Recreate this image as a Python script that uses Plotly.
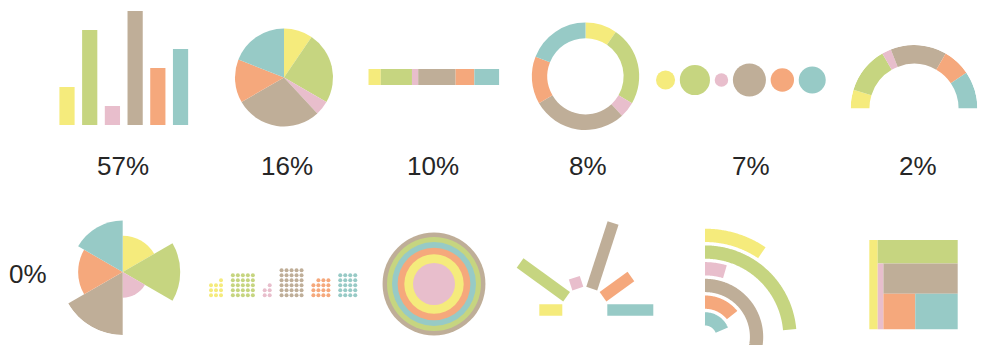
import numpy as np
import plotly.graph_objects as go

W, H = 983, 345

# ---------------- data ----------------
categories = ["A", "B", "C", "D", "E", "F"]
values = [2, 5, 1, 6, 3, 4]
colors = ["#F5EB7C", "#C6D580", "#E8BECC", "#BFAE98", "#F5A87C", "#97CAC6"]
share_labels = ["57%", "16%", "10%", "8%", "7%", "2%", "0%"]

v = np.array(values, dtype=float)
n = len(v)
total = v.sum()
cum = np.cumsum(v)
start = cum - v


def px_dom(x0, y0, x1, y1):
    return dict(x=[x0 / W, x1 / W], y=[1 - y1 / H, 1 - y0 / H])


def circle_dom(cx, cy, r):
    return px_dom(cx - r, cy - r, cx + r, cy + r)


fig = go.Figure()

# 1 column chart
fig.add_trace(go.Bar(x=categories, y=values, width=0.67,
                     marker=dict(color=colors, line=dict(width=0)),
                     xaxis="x", yaxis="y"))

# 2 pie
fig.add_trace(go.Pie(labels=categories, values=values, sort=False,
                     direction="clockwise", rotation=0,
                     marker=dict(colors=colors, line=dict(width=0)),
                     textinfo="none", domain=circle_dom(284, 77.5, 49)))

# 3 stacked bar
fig.add_trace(go.Bar(y=[0] * n, x=values, base=start, orientation="h", width=1,
                     marker=dict(color=colors, line=dict(width=0)),
                     xaxis="x2", yaxis="y2"))

# 4 donut
fig.add_trace(go.Pie(labels=categories, values=values, sort=False,
                     direction="clockwise", rotation=0, hole=0.71,
                     marker=dict(colors=colors, line=dict(width=0)),
                     textinfo="none", domain=circle_dom(585.5, 76.3, 53.7)))

# 5 bubbles (area ~ value)
d = 13.5 * np.sqrt(v)
bx = 656 + np.cumsum(d) - d / 2 + 4.7 * np.arange(n)
fig.add_trace(go.Scatter(x=bx, y=[80] * n, mode="markers",
                         marker=dict(size=d, color=colors, opacity=1, line=dict(width=0)),
                         xaxis="x3", yaxis="y3"))

# 6 semi donut
fig.add_trace(go.Barpolar(r=[1 - 0.703] * n, base=[0.703] * n,
                          theta=(start + v / 2) * 180 / total,
                          width=v * 180 / total,
                          marker=dict(color=colors, line=dict(width=0)),
                          subplot="polar"))

# 7 rose
fig.add_trace(go.Barpolar(r=np.sqrt(v), theta=(np.arange(n) + 0.5) * 360 / n,
                          width=[360 / n] * n,
                          marker=dict(color=colors, line=dict(width=0)),
                          subplot="polar2"))

# 8 waffle (5 dots per unit)
per_unit = 5
wx, wy, wc = [], [], []
gx = 0.0
for i in range(n):
    cnt = int(v[i] * per_unit)
    cols = int(round(np.sqrt(cnt)))
    for k in range(cnt):
        row = k // cols
        col = cols - 1 - (k % cols)
        wx.append(211 + 5 * (gx + col))
        wy.append(295.3 - 5 * row)
        wc.append(colors[i])
    gx += cols - 1 + 2.37
fig.add_trace(go.Scatter(x=wx, y=wy, mode="markers",
                         marker=dict(size=4, color=wc, opacity=1, line=dict(width=0)),
                         xaxis="x3", yaxis="y3"))

# 9 concentric circles
order = np.argsort(-v)
fig.add_trace(go.Scatter(x=[434] * n, y=[284] * n, mode="markers",
                         marker=dict(size=2 * 21 * np.sqrt(v[order]),
                                     color=[colors[i] for i in order],
                                     opacity=1, line=dict(width=0)),
                         xaxis="x3", yaxis="y3"))

# 10 rays
ray_theta = 180 - np.arange(n) * 180 / (n - 1)
RAY_IN, RAY_UNIT = 22.5, 11.5
for i in range(n):
    fig.add_trace(go.Scatterpolar(r=[RAY_IN, RAY_IN + RAY_UNIT * v[i]],
                                  theta=[ray_theta[i], ray_theta[i]],
                                  mode="lines", cliponaxis=False,
                                  line=dict(color=colors[i], width=11.5),
                                  subplot="polar3"))

# 11 radial bars (arcs, angle ~ value)
DEG_PER_UNIT = 17
ARC_CX, ARC_CY = 705, 337
thick = 13.3
outer = 108.3 - 16.7 * np.arange(n)
for i in range(n):
    span = v[i] * DEG_PER_UNIT
    ang = np.radians(np.linspace(90, 90 - span, int(span * 2) + 2))
    rm = outer[i] - thick / 2
    fig.add_trace(go.Scatter(x=ARC_CX + rm * np.cos(ang), y=ARC_CY - rm * np.sin(ang),
                             mode="lines", line=dict(color=colors[i], width=thick, simplify=False),
                             xaxis="x3", yaxis="y3"))

# 12 treemap (slice-dice)
ids = ["root", "A", "r1", "B", "r2", "C", "r3", "D", "r4", "E", "F"]
parents = ["", "root", "root", "r1", "r1", "r2", "r2", "r3", "r3", "r4", "r4"]
leaf_val = dict(zip(categories, values))
leaf_col = dict(zip(categories, colors))
tm_vals = [leaf_val.get(k, 0) for k in ids]
tm_cols = [leaf_col.get(k, "rgba(0,0,0,0)") for k in ids]
fig.add_trace(go.Treemap(ids=ids, labels=ids, parents=parents, values=tm_vals,
                         branchvalues="remainder", sort=False,
                         tiling=dict(packing="slice-dice", pad=0),
                         marker=dict(colors=tm_cols, line=dict(width=0),
                                     pad=dict(t=0, l=0, r=0, b=0)),
                         pathbar=dict(visible=False),
                         textinfo="none", hoverinfo="skip",
                         domain=px_dom(869.3, 240, 957.7, 329.3)))

# labels
label_pos = [(122.5, 166.3), (286.7, 166.3), (432.5, 166.3), (588.3, 166.3),
             (750.8, 166.3), (917.5, 166.3), (28.3, 274.2)]
annotations = [dict(text=t, x=x / W, y=1 - y / H, xref="paper", yref="paper",
                    xanchor="center", yanchor="middle", showarrow=False,
                    font=dict(family="Liberation Sans, Arial", size=26, color="#262626"))
               for t, (x, y) in zip(share_labels, label_pos)]

hidden = dict(visible=False, fixedrange=True)
bd = px_dom(55.65, 11, 191.9, 125)
sd = px_dom(368.3, 69, 499.3, 85)
polar_common = dict(bgcolor="rgba(0,0,0,0)")
RAY_R = 100
ray_low = np.sin(np.radians(20))

fig.update_layout(
    width=W, height=H, margin=dict(l=0, r=0, t=0, b=0),
    paper_bgcolor="white", plot_bgcolor="rgba(0,0,0,0)",
    showlegend=False, hovermode=False, annotations=annotations,
    xaxis=dict(domain=bd["x"], type="category", range=[-0.5, n - 0.5], anchor="y", **hidden),
    yaxis=dict(domain=bd["y"], range=[0, v.max()], anchor="x", **hidden),
    xaxis2=dict(domain=sd["x"], range=[0, total], anchor="y2", **hidden),
    yaxis2=dict(domain=sd["y"], range=[-0.5, 0.5], anchor="x2", **hidden),
    xaxis3=dict(domain=[0, 1], range=[0, W], anchor="y3", **hidden),
    yaxis3=dict(domain=[0, 1], range=[H, 0], anchor="x3", **hidden),
    polar=dict(domain=px_dom(914 - 63.4, 108.4 - 63.4, 914 + 63.4, 108.4), sector=[0, 180],
               angularaxis=dict(visible=False, direction="clockwise", rotation=180),
               radialaxis=dict(visible=False, range=[0, 1]), **polar_common),
    polar2=dict(domain=circle_dom(122.7, 272, 63),
                angularaxis=dict(visible=False, direction="clockwise", rotation=90),
                radialaxis=dict(visible=False, range=[0, np.sqrt(v.max())]), **polar_common),
    polar3=dict(domain=px_dom(584.8 - RAY_R, 310 - RAY_R, 584.8 + RAY_R, 310 + RAY_R * ray_low),
                sector=[-20, 200],
                angularaxis=dict(visible=False, direction="counterclockwise", rotation=0),
                radialaxis=dict(visible=False, range=[0, RAY_R]), **polar_common),
)

fig.write_html("out.html", config={"displayModeBar": False},
               post_script="document.body.style.margin='0';document.body.style.overflow='hidden';")
